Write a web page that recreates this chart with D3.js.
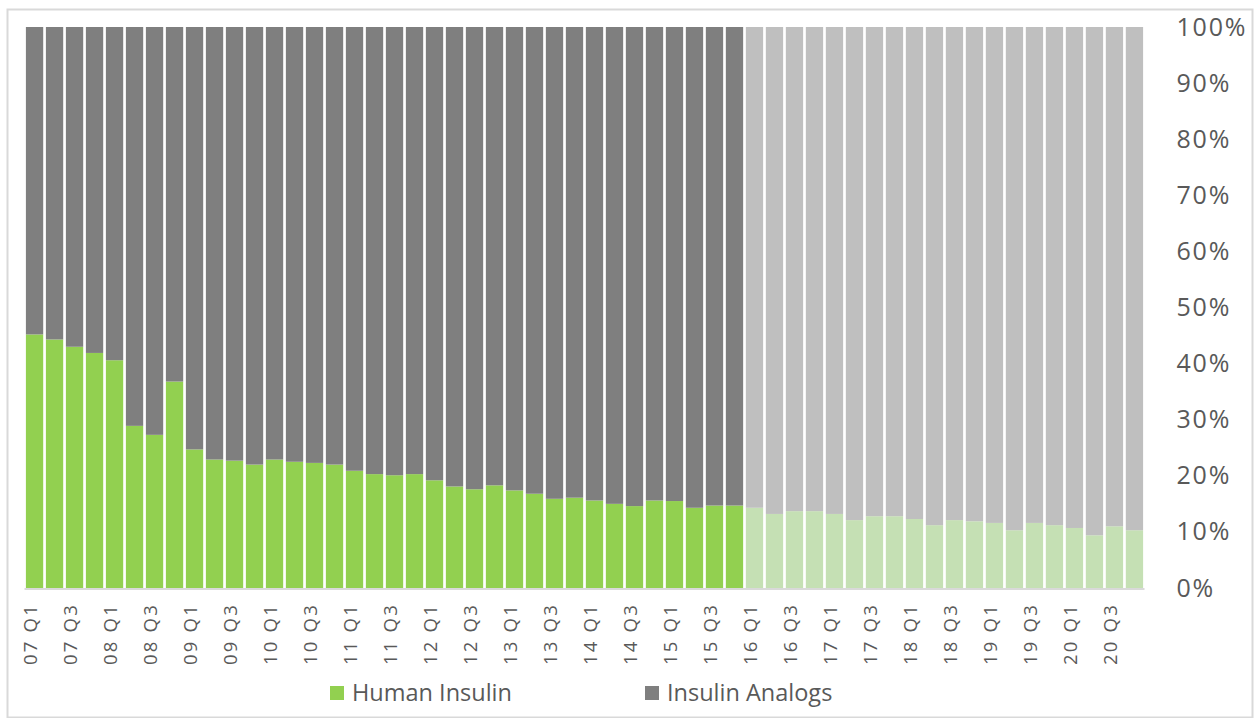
<!DOCTYPE html>
<html>
<head>
<meta charset="utf-8">
<script src="https://cdn.jsdelivr.net/npm/d3@7"></script>
<style>
  body { margin: 0; background: #fff; }
  svg text { font-family: "Open Sans", "Noto Sans", sans-serif; fill: #595959; }
</style>
</head>
<body>
<div id="chart"></div>
<script>
// quarters 07 Q1 .. 20 Q4
const years = ["07","08","09","10","11","12","13","14","15","16","17","18","19","20"];
const quarters = years.flatMap(y => ["Q1","Q2","Q3","Q4"].map(q => `${y} ${q}`));

// share of human insulin (%)
const humanInsulin = [
  45.2, 44.3, 43.0, 41.9, 40.6, 28.9, 27.3, 36.8,
  24.7, 22.9, 22.7, 22.0, 22.9, 22.5, 22.3, 22.0,
  20.9, 20.3, 20.1, 20.3, 19.2, 18.1, 17.6, 18.3,
  17.4, 16.8, 15.9, 16.1, 15.6, 15.0, 14.6, 15.6,
  15.5, 14.3, 14.7, 14.7, 14.3, 13.2, 13.7, 13.7,
  13.2, 12.1, 12.8, 12.8, 12.3, 11.2, 12.1, 11.9,
  11.6, 10.3, 11.6, 11.2, 10.7, 9.4, 11.0, 10.3
];
// share of insulin analogs (%)
const insulinAnalogs = [
  54.8, 55.7, 57.0, 58.1, 59.4, 71.1, 72.7, 63.2,
  75.3, 77.1, 77.3, 78.0, 77.1, 77.5, 77.7, 78.0,
  79.1, 79.7, 79.9, 79.7, 80.8, 81.9, 82.4, 81.7,
  82.6, 83.2, 84.1, 83.9, 84.4, 85.0, 85.4, 84.4,
  84.5, 85.7, 85.3, 85.3, 85.7, 86.8, 86.3, 86.3,
  86.8, 87.9, 87.2, 87.2, 87.7, 88.8, 87.9, 88.1,
  88.4, 89.7, 88.4, 88.8, 89.3, 90.6, 89.0, 89.7
];
const firstProjected = "16 Q1"; // bars from here on are drawn in pale colours
const yTicks = [0, 0.1, 0.2, 0.3, 0.4, 0.5, 0.6, 0.7, 0.8, 0.9, 1];
const seriesNames = ["Human Insulin", "Insulin Analogs"];

const W = 1257, H = 718;
const margin = { top: 27, right: 112, bottom: 130, left: 24.5 };

const colors = {
  "Human Insulin": ["#92D050", "#C5E0B4"],
  "Insulin Analogs": ["#7F7F7F", "#BFBFBF"]
};

const svg = d3.select("#chart").append("svg")
  .attr("width", W)
  .attr("height", H);

// outer frame
svg.append("rect")
  .attr("x", 7.5).attr("y", 9.5)
  .attr("width", W - 12).attr("height", H - 10)
  .attr("fill", "none")
  .attr("stroke", "#D9D9D9")
  .attr("stroke-width", 2);

const table = quarters.map((q, i) => ({
  quarter: q,
  "Human Insulin": humanInsulin[i],
  "Insulin Analogs": insulinAnalogs[i]
}));

const stacked = d3.stack()
  .keys(seriesNames)
  .offset(d3.stackOffsetExpand)(table);

const x = d3.scaleBand()
  .domain(quarters)
  .range([margin.left, margin.left + 56 * 20])
  .paddingInner(0.135)
  .paddingOuter(0.07);

const y = d3.scaleLinear()
  .domain([0, 1])
  .range([H - margin.bottom, margin.top]);

const projIdx = quarters.indexOf(firstProjected);

svg.append("g")
  .selectAll("g")
  .data(stacked)
  .join("g")
  .selectAll("rect")
  .data(d => d.map(p => Object.assign(p, { key: d.key })))
  .join("rect")
  .attr("x", d => x(d.data.quarter))
  .attr("width", x.bandwidth())
  .attr("y", d => y(d[1]))
  .attr("height", d => y(d[0]) - y(d[1]))
  .attr("fill", d => colors[d.key][quarters.indexOf(d.data.quarter) >= projIdx ? 1 : 0]);

// baseline
svg.append("line")
  .attr("x1", margin.left).attr("x2", margin.left + 56 * 20)
  .attr("y1", y(0) + 1).attr("y2", y(0) + 1)
  .attr("stroke", "#D9D9D9")
  .attr("stroke-width", 2);

// y axis on the right
const yAxis = svg.append("g")
  .attr("transform", `translate(${margin.left + 56 * 20},0)`)
  .call(d3.axisRight(y).tickValues(yTicks).tickFormat(d3.format(".0%")).tickSize(0).tickPadding(32));
yAxis.select(".domain").remove();
yAxis.selectAll("text")
  .style("font-size", "25px")
  .style("letter-spacing", "1.8px")
  .attr("fill", "#595959");

// x axis, every other quarter
const xAxis = svg.append("g")
  .attr("transform", `translate(0,${y(0)})`)
  .call(d3.axisBottom(x)
    .tickValues(quarters.filter(q => q.endsWith("Q1") || q.endsWith("Q3")))
    .tickSize(0));
xAxis.select(".domain").remove();
xAxis.selectAll("text")
  .style("font-size", "18.5px")
  .style("letter-spacing", "2.2px")
  .attr("fill", "#595959")
  .attr("transform", "rotate(-90)")
  .attr("text-anchor", "end")
  .attr("x", -15)
  .attr("y", -4)
  .attr("dy", "0.35em");

// legend
const legendItems = [
  { name: "Human Insulin", x: 330 },
  { name: "Insulin Analogs", x: 645 }
];
const legend = svg.append("g");
legend.selectAll("rect")
  .data(legendItems)
  .join("rect")
  .attr("x", d => d.x)
  .attr("y", 686)
  .attr("width", 14)
  .attr("height", 14)
  .attr("fill", d => colors[d.name][0]);
legend.selectAll("text")
  .data(legendItems)
  .join("text")
  .attr("x", d => d.x + 22)
  .attr("y", 693)
  .attr("dy", "0.35em")
  .style("font-size", "23.5px")
  .text(d => d.name);
</script>
</body>
</html>
